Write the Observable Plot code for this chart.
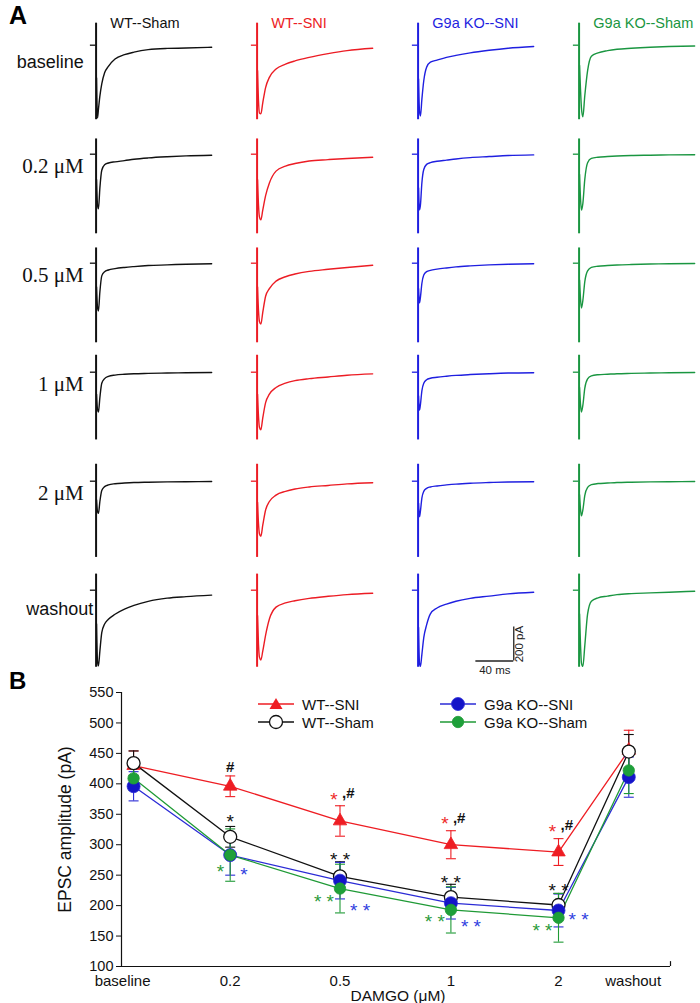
<!DOCTYPE html>
<html>
<head>
<meta charset="utf-8">
<script src="https://cdn.jsdelivr.net/npm/d3@7"></script>
<script src="https://cdn.jsdelivr.net/npm/@observablehq/plot@0.6"></script>
<style>
  html, body { margin: 0; padding: 0; background: #fff; }
  body { width: 700px; height: 1003px; position: relative; overflow: hidden; font-family: Arial, "Liberation Sans", Helvetica, sans-serif; }
  .abs { position: absolute; white-space: nowrap; line-height: 1; }
  svg { display: block; }
  .leg { position: absolute; display: flex; align-items: center; font-size: 15px; height: 16px; color: #111; }
  .leg svg { margin-right: 8px; }
</style>
</head>
<body>
<div id="panelA" class="abs" style="left:0;top:0"></div>
<div id="panelB" class="abs" style="left:0;top:680px"></div>
<div class="abs" style="left:9px;top:3px;font-weight:bold;font-size:25px">A</div>
<div class="abs" style="left:9px;top:669px;font-weight:bold;font-size:24px">B</div>
<div id="legend"></div>
<script>
// ---------- Panel A data (example EPSC traces, pA vs ms) ----------
const groups = ["WT--Sham", "WT--SNI", "G9a KO--SNI", "G9a KO--Sham"];
const traceColors = ["#111111", "#ec1c24", "#1f1fe0", "#1a9641"];
const conditions = ["baseline", "0.2 μM", "0.5 μM", "1 μM", "2 μM", "washout"];
const times = [0.5, 1.5, 2.5, 4, 6, 9, 13, 20, 30, 40, 55, 75, 95, 122];

const wtSham = [
  [-194, -430, -378, -301, -228, -163, -125, -82, -56, -41, -26, -19, -17, -12],
  [-150, -300, -323, -200, -95, -62, -52, -45, -38, -30, -22, -15, -10, -6],
  [-140, -260, -282, -170, -75, -50, -40, -32, -25, -20, -14, -10, -6, -3],
  [-130, -220, -235, -150, -65, -38, -25, -17, -12, -9, -7, -5, -3, -2],
  [-110, -180, -190, -120, -55, -32, -22, -15, -11, -8, -6, -4, -3, -2],
  [-200, -420, -447, -360, -250, -200, -172, -142, -112, -90, -66, -47, -38, -29]
];
const wtSNI = [
  [-150, -330, -400, -405, -340, -250, -190, -141, -112, -93, -72, -50, -32, -18],
  [-150, -300, -370, -388, -330, -245, -170, -100, -70, -55, -40, -32, -25, -18],
  [-140, -280, -345, -360, -290, -195, -150, -106, -80, -64, -48, -36, -25, -12],
  [-130, -260, -325, -340, -270, -180, -130, -90, -65, -50, -38, -28, -18, -10],
  [-125, -250, -310, -325, -260, -170, -120, -82, -60, -46, -34, -25, -16, -9],
  [-150, -320, -395, -412, -360, -265, -170, -100, -75, -62, -48, -36, -26, -18]
];
const koSNI = [
  [-200, -390, -418, -320, -210, -130, -100, -88, -72, -60, -45, -30, -18, -8],
  [-200, -330, -300, -170, -90, -60, -50, -42, -35, -28, -20, -14, -8, -4],
  [-150, -235, -200, -120, -70, -50, -42, -35, -28, -22, -16, -10, -6, -3],
  [-140, -225, -190, -110, -65, -45, -36, -30, -24, -19, -14, -9, -5, -3],
  [-130, -210, -175, -100, -60, -42, -34, -28, -22, -17, -12, -8, -5, -3],
  [-220, -430, -450, -380, -280, -205, -140, -105, -82, -65, -48, -35, -22, -12]
];
const koSham = [
  [-120, -260, -370, -423, -300, -150, -65, -45, -32, -24, -18, -12, -8, -5],
  [-120, -260, -330, -290, -150, -50, -25, -18, -14, -11, -8, -6, -4, -3],
  [-100, -210, -265, -220, -110, -45, -25, -18, -14, -11, -8, -5, -3, -2],
  [-90, -190, -235, -195, -95, -40, -22, -15, -12, -9, -7, -5, -3, -2],
  [-80, -165, -205, -170, -85, -36, -20, -14, -11, -8, -6, -4, -3, -2],
  [-140, -320, -430, -450, -330, -140, -65, -45, -35, -26, -20, -16, -12, -6]
];
const artifactTop = [130, 90, 90, 100, 100, 95];
const artifactBottom = [-440, -470, -470, -400, -450, -455];
const scaleBarMs = 40, scaleBarPA = 200;

// ---------- Panel B data (EPSC amplitude, mean ± SEM) ----------
const doses = ["baseline", "0.2", "0.5", "1", "2", "washout"];
const dosePos = [0.11, 0.99, 1.99, 3.0, 3.98, 4.62];       // x positions of the points on the axis
const doseLabelPos = [0.01, 0.99, 1.99, 3.0, 3.98, 4.66];  // x positions of the tick labels
const wtSNIMean = [430, 396, 339, 300, 288, 455];
const wtSNIErr  = [24, 17, 25, 23, 22, 33];
const wtShamMean = [434, 313, 248, 214, 201, 453];
const wtShamErr  = [20, 17, 24, 21, 19, 28];
const koSNIMean = [396, 283, 241, 204, 192, 411];
const koSNIErr  = [24, 33, 30, 26, 27, 33];
const koShamMean = [409, 283, 228, 193, 180, 422];
const koShamErr  = [20, 43, 40, 38, 40, 38];
const yTicks = [100, 150, 200, 250, 300, 350, 400, 450, 500, 550];

// significance marks: [dose, y position (pA), label]
const sigRedStar = [["0.5", 382, "*"], ["1", 342, "*"], ["2", 330, "*"]];
const sigHash = [["0.2", 427, "#"], ["0.5", 384, ",#"], ["1", 344, ",#"], ["2", 332, ",#"]];
const sigBlack = [["0.2", 346, "*"], ["0.5", 284, "* *"], ["1", 246, "* *"], ["2", 233, "* *"]];
const sigGreen = [["0.2", 263, "*"], ["0.5", 215, "* *"], ["1", 181, "* *"], ["2", 166, "* *"]];
const sigBlue = [["0.2", 258, "*"], ["0.5", 199, "* *"], ["1", 174, "* *"], ["2", 184, "* *"]];

const sans = "Arial, 'Liberation Sans', Helvetica, sans-serif";
const serif = "'Times New Roman', 'Liberation Serif', serif";

// ---------- Build panel A ----------
const traceSets = [wtSham, wtSNI, koSNI, koSham];
const traceRows = [], tickRows = [], artifactRows = [];
groups.forEach((g, gi) => {
  conditions.forEach((c, ci) => {
    tickRows.push({group: g, cond: c});
    artifactRows.push({group: g, cond: c, top: artifactTop[ci], bottom: artifactBottom[ci]});
    times.forEach((t, ti) => traceRows.push({group: g, cond: c, t, v: traceSets[gi][ci][ti]}));
  });
});
const titleRows = groups.map(g => ({group: g, cond: "baseline"}));
const sansRowLabels = ["baseline", "washout"];
const serifRowLabels = ["0.2 μM", "0.5 μM", "1 μM", "2 μM"];
const cornerMs = 101, cornerPA = -418;

const plotA = Plot.plot({
  width: 700, height: 680,
  marginTop: 16, marginBottom: 7.6, marginLeft: 86.4, marginRight: 2.1,
  style: {fontFamily: sans, background: "transparent", overflow: "visible"},
  x: {domain: [-8, 125], axis: null},
  y: {domain: [-480, 163.5], axis: null},
  fx: {domain: groups, paddingInner: 0.2186, paddingOuter: 0, axis: null, label: null},
  fy: {domain: conditions, padding: 0, axis: null, label: null},
  color: {domain: groups, range: traceColors},
  marks: [
    Plot.ruleY(tickRows, {fx: "group", fy: "cond", y: () => 0, x1: () => -6, x2: () => 0, stroke: "group", strokeWidth: 1.3}),
    Plot.ruleX(artifactRows, {fx: "group", fy: "cond", x: () => 0, y1: "bottom", y2: "top", stroke: "group", strokeWidth: 2}),
    Plot.line(traceRows, {fx: "group", fy: "cond", x: "t", y: "v", stroke: "group", strokeWidth: 1.4, curve: "monotone-x"}),
    Plot.text(titleRows, {fx: "group", fy: "cond", x: () => 15, y: () => 130, text: "group", fill: "group", textAnchor: "start", fontSize: 14.5, fontFamily: sans}),
    Plot.text(sansRowLabels, {fx: () => groups[0], fy: d => d, x: d => d === "washout" ? -3 : -13, y: d => d === "washout" ? -110 : -100, text: d => d, textAnchor: "end", fontSize: 18, fontFamily: sans, fill: "#111"}),
    Plot.text(serifRowLabels, {fx: () => groups[0], fy: d => d, x: () => -13, y: () => -70, text: d => d, textAnchor: "end", fontSize: 21, fontFamily: serif, fill: "#111"}),
    // scale bar
    Plot.ruleY([cornerPA], {fx: () => groups[2], fy: () => "washout", y: d => d, x1: () => cornerMs - scaleBarMs, x2: () => cornerMs, stroke: "#222", strokeWidth: 1.3}),
    Plot.ruleX([cornerMs], {fx: () => groups[2], fy: () => "washout", x: d => d, y1: () => cornerPA, y2: () => cornerPA + scaleBarPA, stroke: "#222", strokeWidth: 1.3}),
    Plot.text([scaleBarMs + " ms"], {fx: () => groups[2], fy: () => "washout", x: () => cornerMs - scaleBarMs / 2, y: () => cornerPA, dy: 9, text: d => d, fontSize: 11.5, fill: "#222"}),
    Plot.text([scaleBarPA + " pA"], {fx: () => groups[2], fy: () => "washout", x: () => cornerMs, y: () => cornerPA + scaleBarPA / 2, dx: 6, text: d => d, rotate: -90, fontSize: 11.5, fill: "#222"})
  ]
});
document.getElementById("panelA").appendChild(plotA);

// ---------- Build panel B ----------
const series = [
  {name: "WT--SNI", mean: wtSNIMean, err: wtSNIErr, line: "#ee1d23", color: "#ee1d23", fill: "#ee1d23", symbol: "triangle", r: 5},
  {name: "WT--Sham", mean: wtShamMean, err: wtShamErr, line: "#111", color: "#111", fill: "#fff", symbol: "circle", r: 6.5},
  {name: "G9a KO--SNI", mean: koSNIMean, err: koSNIErr, line: "#2b2bd6", color: "#2b2bd6", fill: "#1414c8", symbol: "circle", r: 6.5},
  {name: "G9a KO--Sham", mean: koShamMean, err: koShamErr, line: "#1f9a36", color: "#1f9a36", fill: "#1ea03a", symbol: "circle", r: 5.7}
];
const rowsOf = s => doses.map((d, i) => ({x: dosePos[i], y: s.mean[i], lo: s.mean[i] - s.err[i], hi: s.mean[i] + s.err[i]}));
const capSymbol = {draw(context) { context.moveTo(-5, 0); context.lineTo(5, 0); }};
const xi = d => dosePos[doses.indexOf(d[0])];

const marksB = [
  Plot.ruleX([0], {x: d => d, y1: () => 100, y2: () => 550, stroke: "#111", strokeWidth: 1.2}),
  Plot.axisY({ticks: yTicks, tickSize: 5, tickPadding: 3, label: null, fontSize: 14.5, tickFormat: d => String(d)}),
  Plot.ruleY([100], {y: d => d, x1: () => 0, x2: () => 5, stroke: "#111", strokeWidth: 1.2}),
  Plot.ruleX([5], {x: d => d, y1: () => 100, y2: () => 108, stroke: "#111", strokeWidth: 1.2}),
  Plot.text(doses.slice(0, 5), {x: (d, i) => doseLabelPos[i], frameAnchor: "bottom", lineAnchor: "middle", dy: 15, text: d => d, fontSize: 15, fill: "#111"}),
  Plot.text(doses.slice(5), {x: () => doseLabelPos[5], frameAnchor: "bottom", lineAnchor: "middle", dy: 15, text: d => d, fontSize: 15, fill: "#111"}),
  Plot.text(["DAMGO (μM)"], {x: () => 2.5, frameAnchor: "bottom", lineAnchor: "middle", dy: 30, dx: 2, text: d => d, fontSize: 15.5, fill: "#111"}),
  Plot.text(["EPSC amplitude (pA)"], {frameAnchor: "left", textAnchor: "middle", lineAnchor: "middle", dx: -56, rotate: -90, text: d => d, fontSize: 17.5, fill: "#111"})
];
series.forEach(s => marksB.push(Plot.line(rowsOf(s), {x: "x", y: "y", stroke: s.line, strokeWidth: 1.3})));
series.forEach(s => {
  const rows = rowsOf(s);
  marksB.push(Plot.ruleX(rows, {x: "x", y1: "lo", y2: "hi", stroke: s.color, strokeWidth: 1.1}));
  marksB.push(Plot.dot(rows, {x: "x", y: "hi", symbol: capSymbol, stroke: s.color, fill: "none", strokeWidth: 1.1}));
  marksB.push(Plot.dot(rows, {x: "x", y: "lo", symbol: capSymbol, stroke: s.color, fill: "none", strokeWidth: 1.1}));
});
series.forEach(s => {
  marksB.push(Plot.dot(rowsOf(s), {x: "x", y: "y", symbol: s.symbol, r: s.r, fill: s.fill, stroke: s.color, strokeWidth: s.fill === "#fff" ? 1.3 : 0.8}));
});
const starOpts = {fontSize: 19, fontFamily: sans, lineAnchor: "middle"};
marksB.push(
  Plot.text(sigRedStar, {x: xi, y: d => d[1], text: d => d[2], dx: -6, dy: 5, fill: "#ee2a2a", ...starOpts}),
  Plot.text(sigHash.slice(0, 1), {x: xi, y: d => d[1], text: d => d[2], fill: "#111", fontSize: 15, fontWeight: "bold", fontFamily: sans}),
  Plot.text(sigHash.slice(1), {x: xi, y: d => d[1], text: d => d[2], dx: 2, textAnchor: "start", fill: "#111", fontSize: 15, fontWeight: "bold", fontFamily: sans}),
  Plot.text(sigBlack, {x: xi, y: d => d[1], text: d => d[2], dy: 5, fill: "#111", ...starOpts}),
  Plot.text(sigGreen, {x: xi, y: d => d[1], text: d => d[2], dx: -6, dy: 5, textAnchor: "end", fill: "#2a9a3a", ...starOpts}),
  Plot.text(sigBlue, {x: xi, y: d => d[1], text: d => d[2], dx: 10, dy: 5, textAnchor: "start", fill: "#3040e0", ...starOpts})
);

const plotB = Plot.plot({
  width: 700, height: 323,
  marginTop: 12, marginBottom: 37, marginLeft: 121, marginRight: 30,
  style: {fontFamily: sans, fontSize: "15px", color: "#111", background: "transparent", overflow: "visible"},
  x: {domain: [0, 5], axis: null},
  y: {domain: [100, 550], axis: null},
  marks: marksB
});
document.getElementById("panelB").appendChild(plotB);

// ---------- Legend (panel B) ----------
const legendItems = [
  {s: series[0], left: 258, top: 704},
  {s: series[1], left: 258, top: 722},
  {s: series[2], left: 440, top: 704},
  {s: series[3], left: 440, top: 722}
];
const legend = document.getElementById("legend");
legendItems.forEach(({s, left, top}) => {
  const div = document.createElement("div");
  div.className = "leg";
  div.style.left = left + "px";
  div.style.top = (top - 8) + "px";
  let sym;
  if (s.symbol === "triangle") sym = `<path d="M18,2 L24.5,13 L11.5,13 Z" fill="${s.fill}"/>`;
  else sym = `<circle cx="18" cy="8" r="${s.r}" fill="${s.fill}" stroke="${s.color}" stroke-width="${s.fill === '#fff' ? 1.3 : 0.8}"/>`;
  div.innerHTML = `<svg width="36" height="16"><line x1="0" x2="36" y1="8" y2="8" stroke="${s.line}" stroke-width="1.3"/>${sym}</svg><span>${s.name}</span>`;
  legend.appendChild(div);
});
</script>
</body>
</html>
